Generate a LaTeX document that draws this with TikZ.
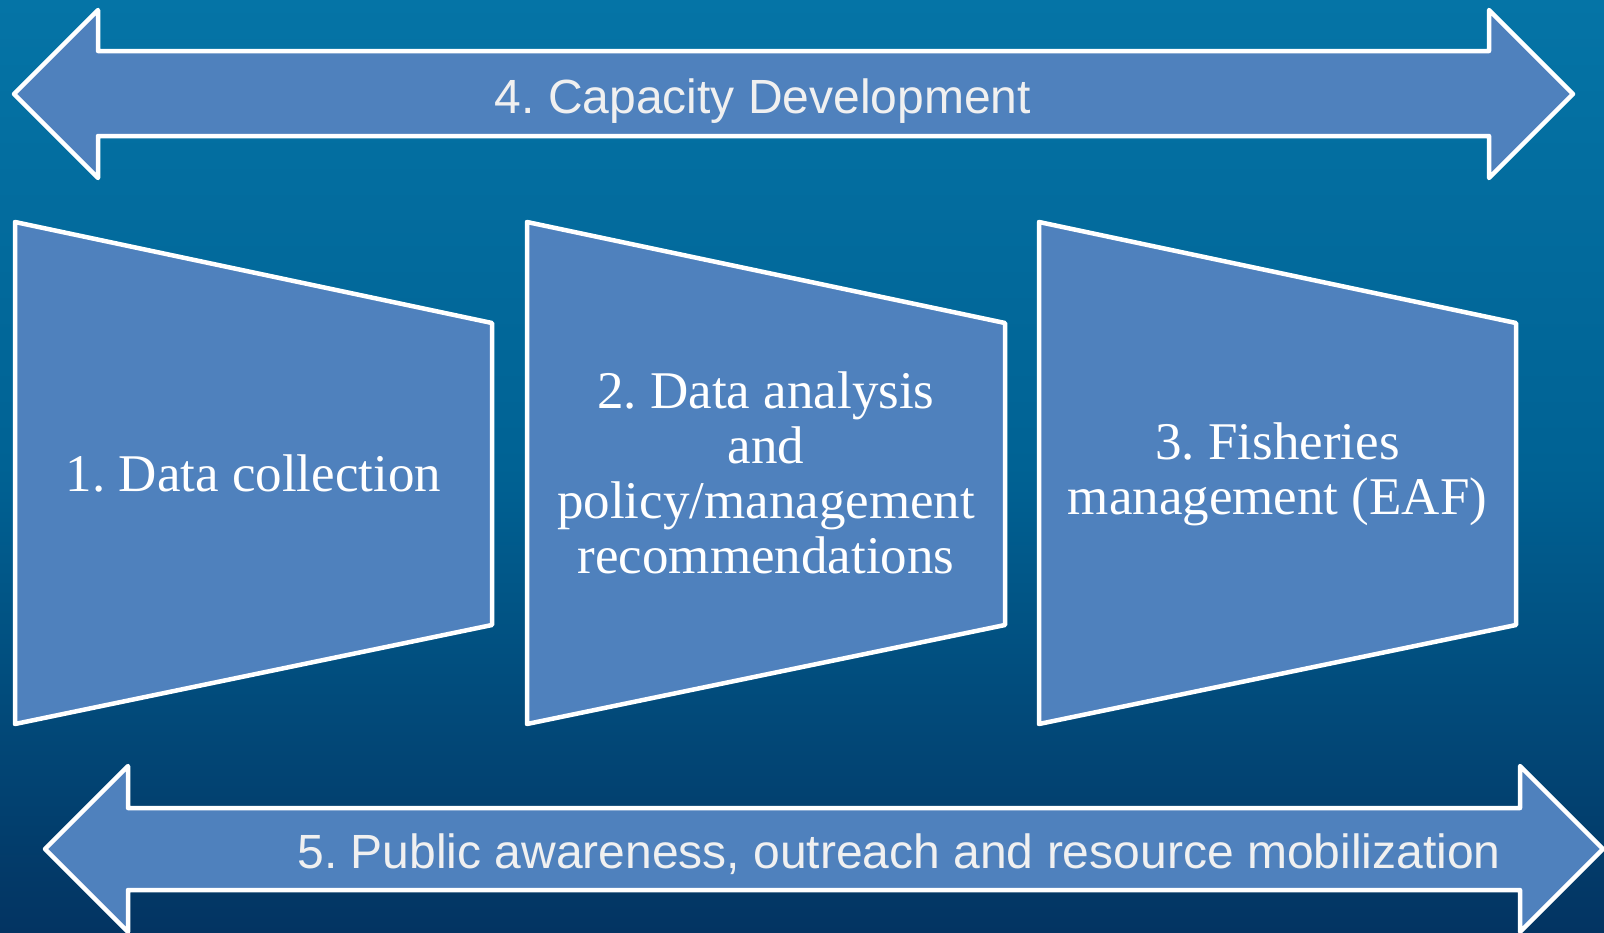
\documentclass[tikz,border=0pt]{standalone}
\usepackage{fontspec}
\setmainfont{Liberation Serif}
\newfontfamily\arialfont{Liberation Sans}
\definecolor{shapefill}{RGB}{79,129,189}
\definecolor{bgtop}{RGB}{5,116,166}
\definecolor{bgmid}{RGB}{0,98,148}
\definecolor{bgbot}{RGB}{3,52,98}
\definecolor{sanstext}{RGB}{240,240,240}
\tikzset{
  bluearrow/.style={draw=white, fill=shapefill, line width=4.5pt, line join=round},
  trap/.style={draw=white, fill=shapefill, line width=4.5pt, line join=round},
  arrowlabel/.style={inner sep=0pt, anchor=base, text=sanstext, font=\arialfont\fontsize{48}{58}\selectfont},
  traplabel/.style={inner sep=0pt, align=center, text=white, font=\fontsize{53}{55}\selectfont}
}
\frenchspacing
\begin{document}
\begin{tikzpicture}[x=1pt,y=-1pt]
\useasboundingbox (0,0) rectangle (1604,932);
\shade[top color=bgtop, bottom color=bgbot, middle color=bgmid] (0,0) rectangle (1604,932);
% top double arrow
\draw[bluearrow] (14,94) -- (98,10) -- (98,51) -- (1489,51) -- (1489,10) -- (1573,94)
  -- (1489,178) -- (1489,136) -- (98,136) -- (98,178) -- cycle;
\node[arrowlabel] (cap) at (763,113) {4. Capacity Development};
% bottom double arrow
\draw[bluearrow] (45,849) -- (128,766) -- (128,808) -- (1520,808) -- (1520,766) -- (1603,849)
  -- (1520,932) -- (1520,890) -- (128,890) -- (128,932) -- cycle;
\node[arrowlabel] (pub) at (899,868) {5. Public awareness, outreach and resource mobilization};
% trapezoids
\draw[trap] (15,222) -- (492,323) -- (492,625) -- (15,724) -- cycle;
\draw[trap] (527,222) -- (1005,323) -- (1005,625) -- (527,724) -- cycle;
\draw[trap] (1039,222) -- (1516,323) -- (1516,625) -- (1039,724) -- cycle;
\node[traplabel] (t1) at (253.5,473) {1. Data collection};
\node[traplabel] (t2) at (766,473) {2. Data analysis\\and\\policy/management\\recommendations};
\node[traplabel] (t3) at (1277.5,474) {3. Fisheries\\management (EAF)};
\end{tikzpicture}
\end{document}
